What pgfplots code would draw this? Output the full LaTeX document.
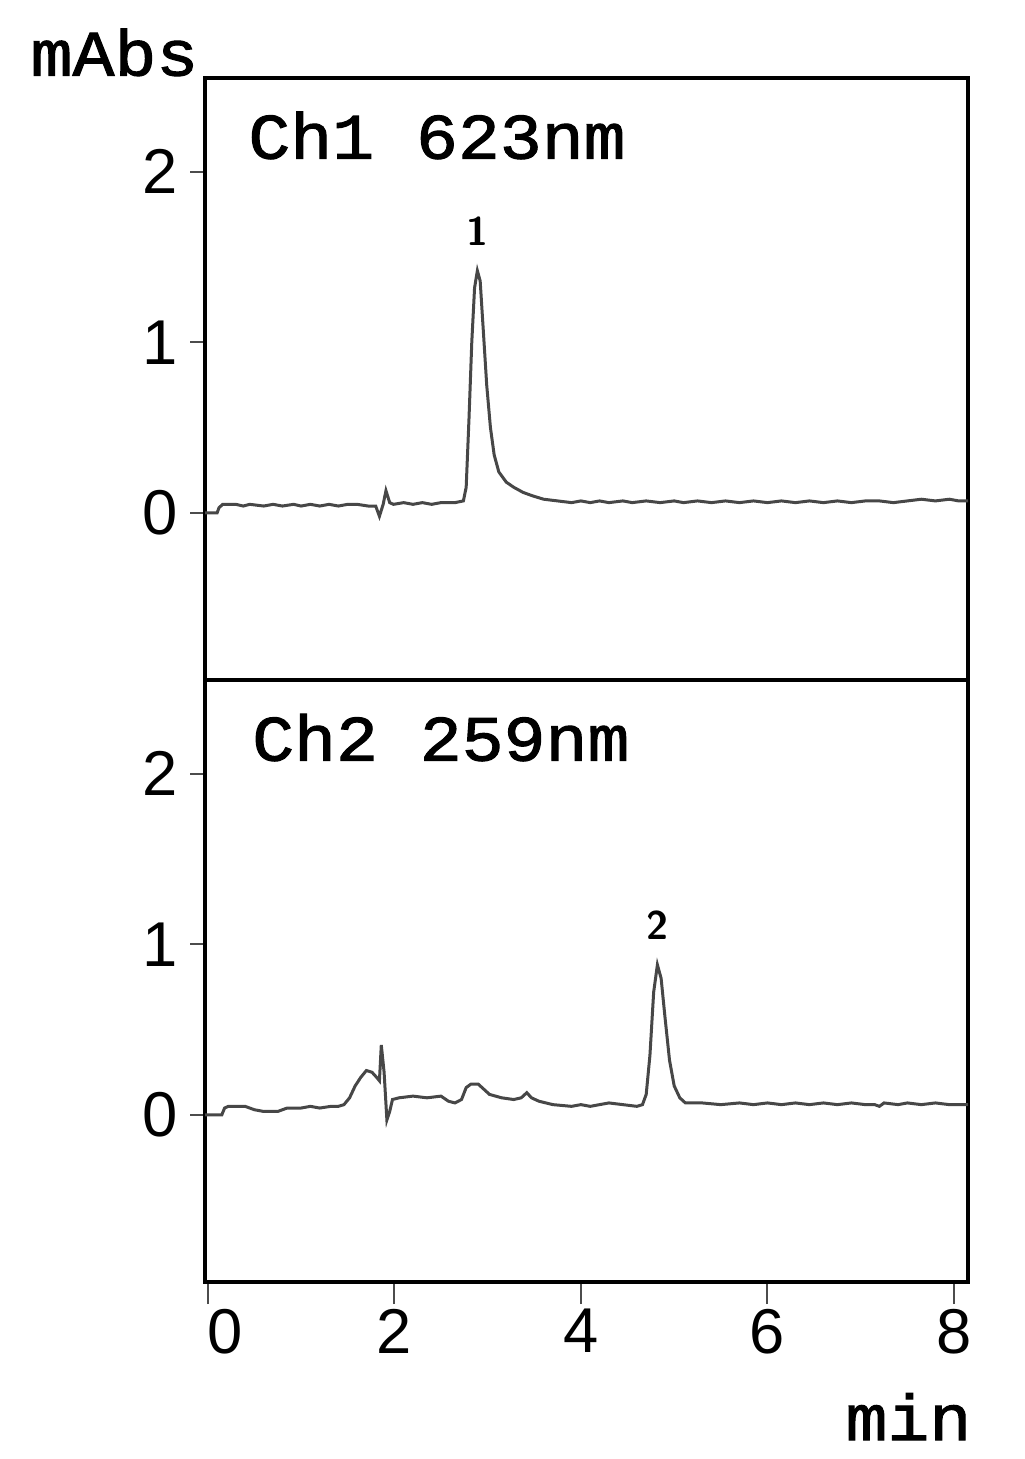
\documentclass[border=0pt]{standalone}
\usepackage{fontspec}
\setmainfont{Liberation Sans}
\newfontfamily\monofont[FakeStretch=1.08,FakeBold=1.6]{Liberation Mono}
\usepackage{pgfplots}
\pgfplotsset{compat=1.18}
\pgfplotstableread{
t v
-0.03 0.00
0.10 0.00
0.12 0.03
0.16 0.05
0.30 0.05
0.38 0.04
0.45 0.05
0.60 0.04
0.70 0.05
0.80 0.04
0.92 0.05
1.00 0.04
1.10 0.05
1.20 0.04
1.30 0.05
1.40 0.04
1.50 0.05
1.60 0.05
1.72 0.04
1.80 0.04
1.84 -0.02
1.88 0.05
1.91 0.13
1.95 0.06
1.99 0.05
2.10 0.06
2.20 0.05
2.30 0.06
2.40 0.05
2.50 0.06
2.65 0.06
2.74 0.07
2.77 0.15
2.80 0.55
2.83 1.00
2.86 1.32
2.89 1.42
2.92 1.36
2.95 1.10
2.99 0.75
3.03 0.50
3.07 0.34
3.12 0.24
3.20 0.18
3.28 0.15
3.38 0.12
3.48 0.10
3.60 0.08
3.75 0.07
3.90 0.06
4.00 0.07
4.10 0.06
4.20 0.07
4.30 0.06
4.45 0.07
4.55 0.06
4.70 0.07
4.85 0.06
5.00 0.07
5.10 0.06
5.25 0.07
5.40 0.06
5.55 0.07
5.70 0.06
5.85 0.07
6.00 0.06
6.15 0.07
6.30 0.06
6.45 0.07
6.60 0.06
6.75 0.07
6.90 0.06
7.05 0.07
7.20 0.07
7.35 0.06
7.50 0.07
7.65 0.08
7.80 0.07
7.95 0.08
8.05 0.07
8.15 0.07
}\chone
\pgfplotstableread{
t v
-0.03 0.00
0.15 0.00
0.18 0.04
0.22 0.05
0.40 0.05
0.50 0.03
0.60 0.02
0.75 0.02
0.85 0.04
1.00 0.04
1.10 0.05
1.20 0.04
1.32 0.05
1.40 0.05
1.46 0.06
1.52 0.10
1.58 0.17
1.64 0.22
1.70 0.26
1.76 0.25
1.81 0.22
1.84 0.20
1.86 0.41
1.89 0.25
1.92 -0.03
1.95 0.02
1.98 0.09
2.05 0.10
2.20 0.11
2.35 0.10
2.50 0.11
2.58 0.08
2.65 0.07
2.72 0.09
2.77 0.16
2.82 0.18
2.90 0.18
2.96 0.15
3.02 0.12
3.15 0.10
3.28 0.09
3.36 0.10
3.42 0.13
3.47 0.10
3.55 0.08
3.70 0.06
3.90 0.05
4.00 0.06
4.10 0.05
4.20 0.06
4.30 0.07
4.45 0.06
4.60 0.05
4.66 0.06
4.70 0.12
4.74 0.35
4.78 0.72
4.82 0.88
4.86 0.80
4.90 0.58
4.95 0.32
5.00 0.17
5.06 0.10
5.12 0.07
5.30 0.07
5.50 0.06
5.70 0.07
5.85 0.06
6.00 0.07
6.15 0.06
6.30 0.07
6.45 0.06
6.60 0.07
6.75 0.06
6.90 0.07
7.05 0.06
7.15 0.06
7.20 0.05
7.25 0.07
7.40 0.06
7.50 0.07
7.65 0.06
7.80 0.07
7.95 0.06
8.15 0.06
}\chtwo
\pgfplotsset{
  panel/.style={
    width=228.9pt, height=180.6pt, scale only axis,
    xmin=-0.03, xmax=8.15, ymin=-0.98, ymax=2.55,
    axis line style={line width=1.2pt},
    tick style={line width=0.6pt, black!70},
    tick align=outside,
    major tick length=4.5pt,
    ytick={0,1,2}, ytick pos=left,
    tick label style={font=\fontsize{19}{19}\selectfont},
    /pgf/number format/assume math mode=true,
    clip=false,
  },
  trace/.style={line width=0.9pt, black!72, mark=none},
}
\begin{document}
\begin{tikzpicture}
\useasboundingbox (-61.5pt,-233.7pt) rectangle (245.7pt,204pt);
\begin{axis}[panel, at={(0pt,0pt)}, anchor=south west, xtick=\empty]
  \addplot[trace] table[x=t,y=v] {\chone};
  \node[font=\sffamily\bfseries\fontsize{12}{12}\selectfont, anchor=south] at (axis cs:2.89,1.50) {1};
  \node[font=\monofont\fontsize{19.4}{19.4}\selectfont, anchor=north west, inner sep=0pt] at (rel axis cs:0.056,0.945) {Ch1 623nm};
\end{axis}
\begin{axis}[panel, at={(0pt,0pt)}, anchor=north west,
  xtick={0,2,4,6,8}, xticklabels={\makebox[0pt][l]{0},2,4,6,8}, xtick pos=bottom,
  xtick style={/pgfplots/major tick length=6.6pt}]
  \addplot[trace] table[x=t,y=v] {\chtwo};
  \node[font=\sffamily\bfseries\fontsize{12}{12}\selectfont, anchor=south] at (axis cs:4.82,0.96) {2};
  \node[font=\monofont\fontsize{19.4}{19.4}\selectfont, anchor=north west, inner sep=0pt] at (rel axis cs:0.061,0.945) {Ch2 259nm};
\end{axis}
\node[font=\monofont\fontsize{19.4}{19.4}\selectfont, anchor=north west, inner sep=0pt] at (-52.5pt,195.6pt) {mAbs};
\node[font=\monofont\fontsize{19.4}{19.4}\selectfont, anchor=base east, inner sep=0pt] at (230.1pt,-228pt) {min};
\end{tikzpicture}
\end{document}
